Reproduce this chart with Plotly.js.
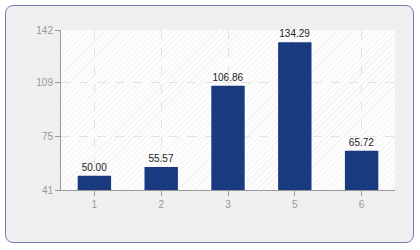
<!DOCTYPE html>
<html>
<head>
<meta charset="utf-8">
<script src="https://cdn.plot.ly/plotly-3.0.1.min.js"></script>
<style>
  html, body { margin: 0; padding: 0; background: #ffffff; }
  #frame { position: absolute; left: 5px; top: 5px; width: 407px; height: 236px;
           border: 1px solid #6f7fae; border-radius: 8px; background: #efefef; }
  #hatch { position: absolute; left: 61px; top: 30px; width: 334px; height: 160px;
           background-color: #ffffff;
           background-image: repeating-linear-gradient(135deg, #fdfdfd 0px, #fdfdfd 3px, #f3f3f3 3px, #f3f3f3 4px); }
  #chart { position: absolute; left: 0; top: 0; width: 420px; height: 250px; }
</style>
</head>
<body>
<div id="frame"></div>
<div id="hatch"></div>
<div id="chart"></div>
<script>
const categories = ['1', '2', '3', '5', '6'];
const values = [50.00, 55.57, 106.86, 134.29, 65.72];
const labels = ['50.00', '55.57', '106.86', '134.29', '65.72'];
const yTicks = [41, 75, 109, 142];
const yMin = 41, yMax = 142;

const trace = {
  type: 'bar',
  x: categories,
  base: yMin,
  y: values.map(v => v - yMin),
  width: 0.5,
  text: labels,
  textposition: 'outside',
  constraintext: 'none',
  cliponaxis: false,
  textfont: { family: 'Liberation Sans, Arial, sans-serif', size: 10, color: '#222222' },
  marker: { color: '#1a3a80' },
  hoverinfo: 'none'
};

const layout = {
  width: 420, height: 250,
  margin: { l: 61, r: 25, t: 30, b: 60 },
  paper_bgcolor: 'rgba(0,0,0,0)',
  plot_bgcolor: 'rgba(0,0,0,0)',
  showlegend: false,
  font: { family: 'Liberation Sans, Arial, sans-serif', size: 10, color: '#999999' },
  xaxis: {
    type: 'category',
    range: [-0.5, 4.5],
    showline: true, linecolor: '#999999', linewidth: 1,
    ticks: 'outside', ticklen: 5, tickcolor: '#999999',
    showgrid: true, gridcolor: '#e2e2e2', griddash: 'dash', gridwidth: 1,
    tickfont: { size: 10, color: '#999999' },
    zeroline: false, fixedrange: true
  },
  yaxis: {
    range: [yMin, yMax],
    tickvals: yTicks,
    ticktext: yTicks.map(String),
    showline: true, linecolor: '#999999', linewidth: 1,
    ticks: 'outside', ticklen: 5, tickcolor: '#999999',
    showgrid: true, gridcolor: '#e2e2e2', griddash: 'dash', gridwidth: 1,
    tickfont: { size: 10, color: '#999999' },
    zeroline: false, fixedrange: true
  },
  bargap: 0.5
};

Plotly.newPlot('chart', [trace], layout, { displayModeBar: false, staticPlot: true });
</script>
</body>
</html>
